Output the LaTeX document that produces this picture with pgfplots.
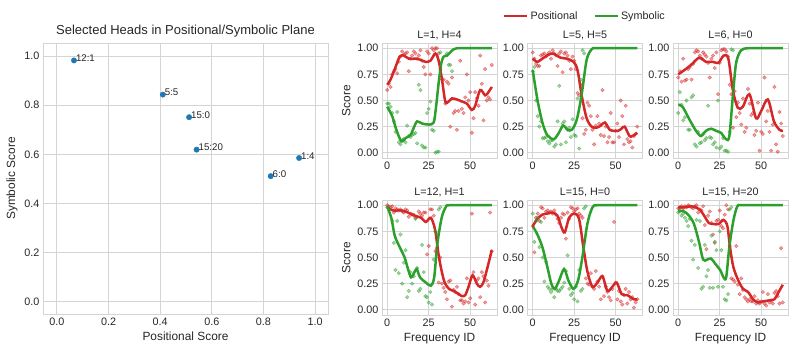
\documentclass[border=0pt]{standalone}
\usepackage{fontspec}
\setmainfont{Liberation Sans}
\usepackage{pgfplots}
\usepackage{pgfplotstable}
\pgfplotsset{compat=1.18}

\definecolor{cpos}{HTML}{D62728}
\definecolor{csym}{HTML}{2CA02C}
\definecolor{cdot}{HTML}{1F77B4}
\definecolor{gridc}{HTML}{D4D4D4}
\definecolor{txt}{HTML}{262626}

\pgfplotsset{
  base/.style={
    scale only axis,
    axis line style={draw=gridc, line width=0.9pt},
    grid=major, grid style={draw=gridc, line width=0.9pt},
    major tick length=0pt,
    tick label style={font=\fontsize{10.8}{13}\selectfont, text=txt},
    label style={font=\fontsize{11.9}{14}\selectfont, text=txt},
    title style={font=\fontsize{10.8}{13}\selectfont, text=txt},
    /pgf/number format/assume math mode=true,
  },
  panel/.style={base, anchor=south west, width=115pt, height=115pt,
    xmin=-3.15, xmax=66.15, ymin=-0.05, ymax=1.05,
    xtick={0,25,50}, ytick={0,0.25,0.5,0.75,1},
    yticklabel style={/pgf/number format/.cd, fixed, fixed zerofill, precision=2},
    title style={yshift=-6pt}},
  rdots/.style={only marks, mark=*, mark size=1.8pt,
    mark options={draw=cpos, fill=cpos, fill opacity=0.45, draw opacity=0.5}},
  % dots sitting at exactly 1.0 lie under the saturated line and are not seen
  gdots/.style={only marks, mark=*, mark size=1.8pt,
    restrict y to domain=-1:0.995,
    mark options={draw=csym, fill=csym, fill opacity=0.45, draw opacity=0.5}},
  rline/.style={cpos, line width=2.5pt, smooth, no marks},
  gline/.style={csym, line width=2.5pt, smooth, no marks},
}

% per-frequency scores for each head: x, positional, symbolic
\pgfplotstableread{
x r g
0 0.60 0.47
1 0.66 0.47
2 0.63 0.44
3 0.75 0.38
4 0.78 0.30
5 0.80 0.20
6 0.76 0.39
7 0.87 0.10
8 0.92 0.08
9 0.97 0.12
10 0.94 0.13
11 0.95 0.10
12 0.96 0.26
13 0.78 0.16
14 0.90 0.15
15 0.93 0.17
16 0.97 0.18
17 0.95 0.19
18 0.90 0.09
19 0.93 0.65
20 0.98 0.60
21 0.88 0.07
22 0.82 0.05
23 0.75 0.05
24 0.97 0.38
25 0.95 0.42
26 0.75 0.49
27 1.00 0.22
28 0.98 0.21
29 1.00 0.00
30 1.00 0.01
31 0.95 0.01
32 0.80 0.96
33 0.70 1.00
34 0.70 1.00
35 0.47 1.00
36 0.68 0.95
37 0.66 0.84
38 0.25 0.84
39 0.72 0.78
40 0.38 1.00
41 0.40 1.00
42 0.22 1.00
43 0.40 1.00
44 0.88 1.00
45 0.42 1.00
46 0.38 1.00
47 0.53 1.00
48 0.75 1.00
49 0.50 1.00
50 0.58 1.00
51 0.19 1.00
52 0.33 1.00
53 0.58 1.00
54 0.52 1.00
55 0.45 1.00
56 0.93 1.00
57 0.66 1.00
58 0.31 1.00
59 0.80 1.00
60 0.50 1.00
61 0.53 1.00
62 0.51 1.00
63 0.84 1.00
}\headA

\pgfplotstableread{
x r g
0 0.96 0.78
1 0.90 0.82
2 0.85 0.50
3 0.83 0.35
4 0.83 0.25
5 0.93 0.30
6 0.94 0.14
7 0.95 0.14
8 0.92 0.15
9 0.94 0.11
10 0.96 0.09
11 0.90 0.12
12 0.98 0.12
13 0.95 0.06
14 0.93 0.08
15 0.83 0.30
16 0.95 0.64
17 0.97 0.08
18 0.77 0.28
19 0.95 0.30
20 0.96 0.10
21 0.93 0.22
22 0.88 0.24
23 0.80 0.15
24 0.92 0.32
25 0.88 0.17
26 0.80 0.16
27 0.57 0.52
28 0.55 0.04
29 0.65 0.70
30 0.33 0.98
31 0.18 0.95
32 0.22 1.00
33 0.48 1.00
34 0.45 1.00
35 0.35 1.00
36 0.22 1.00
37 0.08 1.00
38 0.26 1.00
39 0.35 1.00
40 0.28 1.00
41 0.17 1.00
42 0.60 1.00
43 0.16 1.00
44 0.25 1.00
45 0.10 1.00
46 0.15 1.00
47 0.38 1.00
48 0.10 1.00
49 0.10 1.00
50 0.21 1.00
51 0.28 1.00
52 0.15 1.00
53 0.50 1.00
54 0.35 1.00
55 0.08 1.00
56 0.45 1.00
57 0.13 1.00
58 0.10 1.00
59 0.11 1.00
60 0.05 1.00
61 0.16 1.00
62 0.18 1.00
63 0.25 1.00
}\headB

\pgfplotstableread{
x r g
0 0.72 0.38
1 0.78 0.58
2 0.68 0.46
3 0.90 0.31
4 0.69 0.34
5 0.70 0.50
6 0.80 0.22
7 0.82 0.22
8 0.70 0.53
9 0.85 0.55
10 0.96 0.08
11 0.98 0.06
12 0.97 0.20
13 0.93 0.09
14 0.90 0.10
15 0.96 0.18
16 0.94 0.12
17 0.92 0.14
18 0.86 0.45
19 0.72 0.15
20 0.90 0.14
21 0.93 0.08
22 0.81 0.10
23 0.96 0.05
24 0.56 0.50
25 0.86 0.04
26 0.98 0.06
27 0.99 0.14
28 0.99 0.02
29 0.97 0.02
30 0.92 0.01
31 0.65 0.20
32 0.56 0.99
33 0.24 0.98
34 0.59 1.00
35 0.34 1.00
36 0.48 1.00
37 0.38 1.00
38 0.27 1.00
39 0.52 1.00
40 0.20 1.00
41 0.24 1.00
42 0.61 1.00
43 0.47 1.00
44 0.36 1.00
45 0.38 1.00
46 0.17 1.00
47 0.21 1.00
48 0.48 1.00
49 0.02 1.00
50 0.20 1.00
51 0.18 1.00
52 0.72 1.00
53 0.30 1.00
54 0.40 1.00
55 0.20 1.00
56 0.02 1.00
57 0.27 1.00
58 0.63 1.00
59 0.08 1.00
60 0.01 1.00
61 0.39 1.00
62 0.28 1.00
63 0.16 1.00
}\headC

\pgfplotstableread{
x r g
0 1.00 0.98
1 0.99 0.96
2 0.98 1.00
3 0.99 0.85
4 0.93 0.64
5 0.97 0.38
6 0.96 0.85
7 0.95 0.35
8 0.96 0.72
9 0.94 0.25
10 0.93 0.45
11 0.96 0.57
12 0.95 0.12
13 0.89 0.18
14 0.92 0.36
15 0.91 0.25
16 0.91 0.32
17 0.88 0.87
18 0.89 0.40
19 0.94 0.18
20 0.92 0.20
21 0.90 0.62
22 0.93 0.36
23 0.93 0.13
24 0.53 0.12
25 0.61 0.07
26 0.96 0.17
27 0.96 0.05
28 0.90 0.48
29 0.56 0.75
30 0.59 0.72
31 0.26 0.96
32 0.50 0.98
33 0.25 1.00
34 0.21 1.00
35 0.17 1.00
36 0.10 1.00
37 0.27 1.00
38 0.28 1.00
39 0.03 1.00
40 0.19 1.00
41 0.17 1.00
42 0.22 1.00
43 0.15 1.00
44 0.09 1.00
45 0.09 1.00
46 0.06 1.00
47 0.08 1.00
48 0.30 1.00
49 0.07 1.00
50 0.11 1.00
51 0.92 1.00
52 0.36 1.00
53 0.05 1.00
54 0.28 1.00
55 0.30 1.00
56 0.12 1.00
57 0.36 1.00
58 0.32 1.00
59 0.07 1.00
60 0.28 1.00
61 0.23 1.00
62 0.93 1.00
63 0.56 1.00
}\headD

\pgfplotstableread{
x r g
0 0.80 0.92
1 0.55 0.65
2 0.88 0.85
3 0.92 0.88
4 0.85 0.60
5 0.98 0.84
6 0.97 0.50
7 0.88 0.27
8 0.94 0.46
9 0.95 0.22
10 0.93 0.20
11 0.94 0.17
12 0.92 0.20
13 0.95 0.12
14 0.91 0.20
15 0.87 0.18
16 0.83 0.18
17 0.88 0.20
18 0.92 0.22
19 0.91 0.26
20 0.68 0.37
21 0.93 0.52
22 0.87 0.20
23 0.98 0.14
24 0.97 0.16
25 0.94 0.10
26 0.96 0.22
27 0.97 0.08
28 0.92 0.38
29 0.90 0.18
30 0.88 0.20
31 0.66 0.97
32 0.30 0.99
33 0.25 1.00
34 0.24 1.00
35 0.35 1.00
36 0.22 1.00
37 0.20 1.00
38 0.37 1.00
39 0.27 1.00
40 0.22 1.00
41 0.10 1.00
42 0.32 1.00
43 0.13 1.00
44 0.22 1.00
45 0.17 1.00
46 0.12 1.00
47 0.09 1.00
48 0.20 1.00
49 0.84 1.00
50 0.26 1.00
51 0.10 1.00
52 0.18 1.00
53 0.08 1.00
54 0.05 1.00
55 0.14 1.00
56 0.20 1.00
57 0.06 1.00
58 0.17 1.00
59 0.10 1.00
60 0.12 1.00
61 0.02 1.00
62 0.07 1.00
63 0.10 1.00
}\headE

\pgfplotstableread{
x r g
0 0.97 0.93
1 0.98 0.94
2 0.99 0.90
3 0.97 0.92
4 0.99 0.88
5 0.98 0.85
6 1.00 0.80
7 0.99 0.87
8 0.98 0.66
9 0.97 0.48
10 0.99 0.62
11 1.00 0.86
12 0.93 0.40
13 0.96 0.85
14 0.95 0.20
15 0.99 0.22
16 0.81 0.62
17 0.58 0.32
18 0.90 0.38
19 0.94 0.21
20 0.83 0.71
21 0.72 0.21
22 0.64 0.65
23 0.85 0.57
24 0.86 0.22
25 0.95 0.75
26 0.80 0.57
27 0.78 0.22
28 0.91 0.10
29 1.00 0.09
30 0.96 0.15
31 0.61 0.96
32 0.30 0.98
33 0.29 1.00
34 0.27 1.00
35 0.61 1.00
36 0.24 1.00
37 0.15 1.00
38 0.30 1.00
39 0.19 1.00
40 0.12 1.00
41 0.10 1.00
42 0.08 1.00
43 0.10 1.00
44 0.08 1.00
45 0.08 1.00
46 0.13 1.00
47 0.06 1.00
48 0.09 1.00
49 0.06 1.00
50 0.08 1.00
51 0.17 1.00
52 0.06 1.00
53 0.04 1.00
54 0.15 1.00
55 0.07 1.00
56 0.09 1.00
57 0.06 1.00
58 0.16 1.00
59 0.18 1.00
60 0.13 1.00
61 0.06 1.00
62 0.59 1.00
63 0.07 1.00
}\headF

\begin{document}
\begin{tikzpicture}
\path[use as bounding box] (0pt,0pt) rectangle (797pt,353pt);

% left: heads in the positional/symbolic plane
\begin{axis}[base, anchor=south west, at={(43pt,39pt)},
  width=285pt, height=271pt,
  xmin=-0.054, xmax=1.05, ymin=-0.05, ymax=1.053,
  xtick={0,0.2,...,1.0}, ytick={0,0.2,...,1.0},
  xticklabel style={/pgf/number format/.cd, fixed, fixed zerofill, precision=1},
  yticklabel style={/pgf/number format/.cd, fixed, fixed zerofill, precision=1},
  title={Selected Heads in Positional/Symbolic Plane},
  title style={font=\fontsize{13}{15}\selectfont, yshift=-3.5pt},
  xlabel={Positional Score}, ylabel={Symbolic Score}]
\addplot[only marks, mark=*, mark size=2.7pt, cdot,
  nodes near coords, point meta=explicit symbolic,
  nodes near coords style={anchor=west, xshift=-1.5pt, yshift=2pt,
    font=\fontsize{9.7}{11}\selectfont, text=txt}]
  table[meta=lab] {
x y lab
0.066 0.982 12:1
0.410 0.843 5:5
0.512 0.751 15:0
0.541 0.619 15:20
0.828 0.511 6:0
0.938 0.585 1:4
};
\end{axis}

% top row
\begin{axis}[panel, at={(382pt,195pt)}, title={L=1, H=4}, ylabel={Score}]
\addplot[rdots] table[x=x, y=r] {\headA};
\addplot[gdots] table[x=x, y=g] {\headA};
\addplot[rline] coordinates {(0,0.65)(2,0.70)(5,0.82)(7.5,0.92)(10,0.93)(13,0.90)(17,0.90)(20,0.89)(23,0.87)(26,0.88)(29,0.95)(31,0.88)(33,0.70)(35,0.49)(37,0.49)(39,0.52)(42,0.51)(45,0.49)(48,0.47)(51,0.41)(53,0.45)(56,0.60)(59,0.55)(61,0.58)(63,0.63)};
\addplot[gline] coordinates {(0,0.44)(3,0.35)(5.5,0.22)(8.5,0.11)(11,0.14)(14,0.17)(16,0.24)(18,0.30)(21,0.28)(25,0.27)(28,0.29)(29.5,0.45)(31,0.67)(32.5,0.85)(34,0.92)(36,0.93)(38,0.96)(40,0.99)(42,1.0)(50,1.0)(63,1.0)};
\end{axis}

\begin{axis}[panel, at={(527.5pt,195pt)}, title={L=5, H=5},
  legend style={at={(0.5,1)}, anchor=center, yshift=27pt, draw=none, fill=none,
    font=\fontsize{10.8}{13}\selectfont, text=txt, legend columns=2,
    /tikz/every even column/.append style={column sep=14pt}},
  legend image code/.code={\draw[#1] (0pt,0pt) -- (23pt,0pt);}]
\addplot[rdots, forget plot] table[x=x, y=r] {\headB};
\addplot[gdots, forget plot] table[x=x, y=g] {\headB};
\addplot[rline] coordinates {(0,0.90)(2.8,0.87)(6.7,0.91)(11.7,0.95)(16.7,0.91)(20.6,0.90)(24.6,0.87)(27,0.79)(29.6,0.54)(32.5,0.33)(35.5,0.25)(38.5,0.24)(41,0.26)(43.5,0.29)(46.4,0.22)(49,0.21)(51.4,0.21)(53.5,0.23)(55.4,0.25)(58.3,0.16)(60,0.16)(63,0.19)};
\addlegendentry{Positional}
\addplot[gline] coordinates {(0,0.79)(2.8,0.51)(5.8,0.29)(8.7,0.17)(12.7,0.13)(15.7,0.19)(18.3,0.26)(21,0.22)(23.6,0.22)(26.6,0.32)(29.6,0.57)(32.5,0.89)(35.5,0.99)(38,1.0)(50,1.0)(63,1.0)};
\addlegendentry{Symbolic}
\end{axis}

\begin{axis}[panel, at={(673pt,195pt)}, title={L=6, H=0}]
\addplot[rdots] table[x=x, y=r] {\headC};
\addplot[gdots] table[x=x, y=g] {\headC};
\addplot[rline] coordinates {(0,0.75)(3.6,0.79)(7.7,0.84)(12.7,0.91)(16.7,0.87)(20.8,0.87)(24.2,0.86)(27.4,0.93)(30.2,0.90)(32.9,0.60)(35.9,0.43)(38.9,0.44)(42.9,0.56)(46.9,0.33)(50,0.40)(54,0.51)(57.7,0.30)(61,0.22)(63,0.21)};
\addplot[gline] coordinates {(0,0.46)(2.6,0.44)(6.7,0.32)(10.7,0.21)(13.7,0.16)(16.7,0.21)(19.8,0.23)(22.8,0.21)(25.8,0.19)(28.8,0.13)(30.8,0.16)(32.9,0.54)(34.9,0.86)(37.9,0.98)(42,1.0)(50,1.0)(63,1.0)};
\end{axis}

% bottom row
\begin{axis}[panel, at={(382pt,38pt)}, title={L=12, H=1}, ylabel={Score}, xlabel={Frequency ID}]
\addplot[rdots] table[x=x, y=r] {\headD};
\addplot[gdots] table[x=x, y=g] {\headD};
\addplot[rline] coordinates {(0,0.98)(3.6,0.95)(8.5,0.95)(12.5,0.93)(16.4,0.90)(20.4,0.88)(23.3,0.84)(26.3,0.88)(28.9,0.76)(31.2,0.50)(34.2,0.28)(37.2,0.20)(40.1,0.18)(43.1,0.15)(45.1,0.13)(47,0.14)(49,0.22)(51.4,0.33)(54,0.25)(55.9,0.22)(57.9,0.26)(60.5,0.41)(63,0.57)};
\addplot[gline] coordinates {(0,0.99)(2.6,0.87)(4.5,0.71)(7.5,0.60)(10.5,0.50)(12.5,0.39)(14.4,0.31)(16.4,0.36)(17.8,0.39)(19.8,0.31)(23.3,0.26)(26.3,0.23)(28.3,0.31)(30.2,0.63)(32.8,0.88)(35.2,0.98)(37.2,1.0)(50,1.0)(63,1.0)};
\end{axis}

\begin{axis}[panel, at={(527.5pt,38pt)}, title={L=15, H=0}, xlabel={Frequency ID}]
\addplot[rdots] table[x=x, y=r] {\headE};
\addplot[gdots] table[x=x, y=g] {\headE};
\addplot[rline] coordinates {(0,0.80)(2.8,0.87)(5.8,0.91)(8.8,0.92)(11.8,0.93)(14.9,0.90)(17.3,0.79)(19.3,0.74)(21.9,0.88)(24.9,0.92)(27.9,0.87)(30.5,0.60)(32.9,0.37)(35.9,0.22)(39,0.26)(42,0.32)(45,0.18)(48,0.22)(50.6,0.26)(53.6,0.15)(57,0.14)(61,0.10)(63,0.10)};
\addplot[gline] coordinates {(0,0.80)(2.8,0.72)(5.8,0.60)(8.8,0.41)(11.2,0.25)(13.3,0.20)(15.9,0.28)(18.9,0.39)(21.5,0.28)(24.5,0.20)(27.3,0.28)(29.9,0.50)(32.9,0.82)(36,0.98)(39,1.0)(50,1.0)(63,1.0)};
\end{axis}

\begin{axis}[panel, at={(673pt,38pt)}, title={L=15, H=20}, xlabel={Frequency ID}]
\addplot[rdots] table[x=x, y=r] {\headF};
\addplot[gdots] table[x=x, y=g] {\headF};
\addplot[rline] coordinates {(0,0.98)(3.6,0.98)(7.5,0.99)(10.5,0.98)(13.4,0.95)(16.4,0.88)(18.4,0.83)(21.3,0.82)(24.3,0.82)(27.3,0.86)(29.6,0.80)(31.2,0.60)(33.2,0.41)(36.2,0.28)(39.1,0.20)(42.1,0.17)(45.1,0.10)(48,0.07)(51,0.08)(55,0.09)(57.9,0.10)(60.9,0.18)(63,0.24)};
\addplot[gline] coordinates {(0,0.95)(3.6,0.94)(6.5,0.90)(9.5,0.82)(12.5,0.65)(15,0.48)(17.4,0.48)(19.8,0.49)(22.3,0.44)(25.3,0.38)(27.3,0.31)(28.9,0.31)(30.8,0.60)(33.2,0.85)(35.6,0.99)(38,1.0)(50,1.0)(63,1.0)};
\end{axis}
\end{tikzpicture}
\end{document}
